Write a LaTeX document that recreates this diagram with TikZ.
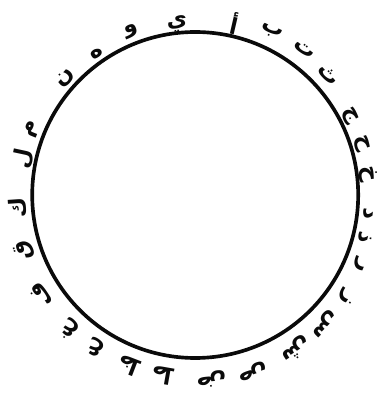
\documentclass[tikz,border=0pt]{standalone}
\usepackage{fontspec}
\usepackage{xcolor}
\usepackage{tikz}
\usetikzlibrary{shapes.geometric, positioning, calc}
\newfontfamily\arabicfont[Script=Arabic]{DejaVu Sans}
\TeXXeTstate=1
\definecolor{ink}{RGB}{10,10,10}
\tikzset{
  ring/.style={circle, draw=ink, line width=2.6pt, minimum size=8.15cm, inner sep=0pt},
  harf/.style={font=\arabicfont\bfseries\fontsize{16}{16}\selectfont, text=ink, inner sep=0pt},
}

\begin{document}
\begin{tikzpicture}
\useasboundingbox (0,0) rectangle (9.45,9.925);
% Okrąg w środku
\node[ring] (ring) at (4.88,5.05) {};

% Litery alfabetu wokół okręgu (kąt / promień / litera)
\foreach \ang/\rad/\ch [count=\i] in {77/4.4/أ, 65/4.5/ب, 53/4.55/ت, 42/4.5/ث, 27/4.35/ج, 17/4.36/ح,
    7/4.36/خ, -6/4.36/د, -14/4.38/ذ, -23/4.45/ر, -34/4.55/ز, -45/4.55/س, -57/4.6/ش, -72/4.65/ص,
    -85/4.62/ض, -100/4.6/ط, -111/4.6/ظ, -123/4.55/ع, -133/4.6/غ, -147/4.6/ف, -162/4.5/ق,
    -176/4.45/ك, 168/4.4/ل, 158/4.4/م, 138/4.35/ن, 125/4.3/ه, 111/4.4/و, 96/4.3/ي}
  \node[harf, rotate=\ang-90] (h\i) at ($(ring.center)+(\ang:\rad)$) {\beginR\ch\endR};
\end{tikzpicture}
\end{document}
